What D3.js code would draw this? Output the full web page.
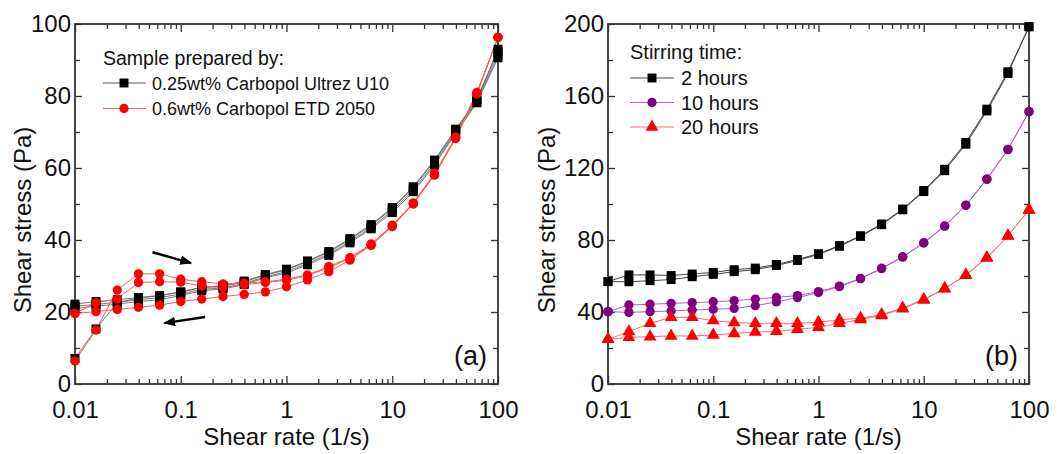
<!DOCTYPE html>
<html>
<head>
<meta charset="utf-8">
<script src="https://cdn.jsdelivr.net/npm/d3@7"></script>
<style>
  html, body { margin: 0; padding: 0; background: #fff; }
  svg { display: block; font-family: "Liberation Sans", Arial, sans-serif; }
</style>
</head>
<body>
<svg id="chart" width="1060" height="454"></svg>
<script>
// Shear rate sweep points (1/s), five per decade
const shearRate = [0.01, 0.0158, 0.0251, 0.0398, 0.0631, 0.1, 0.158, 0.251, 0.398, 0.631,
                   1, 1.58, 2.51, 3.98, 6.31, 10, 15.8, 25.1, 39.8, 63.1, 100];

// Panel (a): 0.25wt% Carbopol Ultrez U10 — repeated up/down sweeps (Pa)
const u10Up1   = [7.1, 15.3, 22.6, 23.9, 24.5, 25.6, 26.9, 27.3, 28.6, 30.4, 31.9, 34.2, 36.8, 40.4, 44.3, 49.0, 54.8, 62.2, 70.8, 79.0, 93.0];
const u10Down1 = [21.0, 21.6, 22.2, 22.9, 23.4, 24.6, 25.9, 26.4, 27.6, 29.5, 30.8, 33.1, 35.7, 39.2, 43.1, 47.6, 53.4, 60.8, 69.7, 78.1, 90.6];
const u10Up2   = [22.2, 22.9, 23.4, 24.0, 24.6, 25.5, 26.8, 27.1, 28.4, 30.2, 31.7, 34.0, 36.6, 40.1, 44.0, 48.7, 54.5, 61.9, 70.5, 78.8, 92.4];
const u10Down2 = [21.6, 22.1, 22.7, 23.4, 24.0, 25.0, 26.3, 26.7, 27.9, 29.8, 31.2, 33.5, 36.1, 39.6, 43.5, 48.1, 53.9, 61.3, 70.1, 78.4, 91.4];

// Panel (a): 0.6wt% Carbopol ETD 2050 (Pa)
const etdUp1  = [6.4, 15.0, 26.1, 30.6, 30.6, 29.1, 28.4, 27.8, 28.0, 28.4, 29.1, 30.3, 32.6, 35.1, 38.9, 44.1, 50.3, 58.5, 68.6, 81.0, 96.3];
const etdUp2  = [19.6, 22.6, 23.6, 28.2, 28.4, 28.3, 27.2, 26.8, 27.6, 28.2, 28.8, 30.1, 32.3, 34.9, 38.7, 43.9, 50.1, 58.2, 68.3, 80.7, 96.3];
const etdDown = [19.6, 20.1, 20.7, 21.3, 21.9, 22.9, 23.6, 24.3, 24.9, 25.6, 27.0, 28.9, 31.2, 34.4, 38.5, 43.7, 50.0, 58.0, 68.2, 80.6, 96.3];

// Panel (b): stirring time series, up and down sweeps (Pa)
const h2Up    = [56.9, 60.6, 60.6, 60.3, 61.1, 62.0, 63.5, 64.4, 66.4, 69.2, 72.4, 76.9, 82.4, 88.9, 97.2, 107.5, 119.3, 134.2, 152.7, 173.5, 198.5];
const h2Down  = [56.9, 56.8, 57.4, 58.0, 59.6, 60.9, 62.4, 63.5, 65.8, 68.6, 72.0, 76.5, 82.0, 88.5, 96.8, 106.9, 118.5, 133.2, 151.7, 172.5, 198.5];
const h10Up   = [40.2, 43.9, 44.3, 44.8, 45.2, 45.7, 46.3, 47.2, 48.1, 49.1, 51.3, 54.4, 58.7, 64.3, 70.7, 78.5, 87.8, 99.4, 113.9, 130.4, 151.3];
const h10Down = [40.2, 39.8, 40.2, 40.6, 41.1, 41.5, 42.0, 43.5, 45.6, 48.0, 50.8, 54.1, 58.5, 64.1, 70.5, 78.3, 87.6, 99.2, 113.7, 130.2, 151.3];
const h20Up   = [24.8, 29.1, 33.7, 37.0, 37.0, 35.2, 34.1, 33.7, 33.7, 33.7, 34.4, 35.6, 36.6, 38.6, 42.2, 47.0, 53.1, 60.6, 70.2, 82.4, 96.7];
const h20Down = [24.8, 25.9, 26.3, 26.7, 26.7, 27.2, 28.1, 28.9, 29.3, 30.4, 31.5, 33.7, 35.8, 38.1, 41.8, 46.7, 52.9, 60.4, 70.0, 82.2, 96.7];

// Axis ticks and labels
const xMajorTicks = [0.01, 0.1, 1, 10, 100];
const xTickLabels = ["0.01", "0.1", "1", "10", "100"];
const yTicksA = [0, 20, 40, 60, 80, 100];
const yTicksB = [0, 40, 80, 120, 160, 200];

const legendTitleA = "Sample prepared by:";
const legendNamesA = ["0.25wt% Carbopol Ultrez U10", "0.6wt% Carbopol ETD 2050"];
const legendTitleB = "Stirring time:";
const legendNamesB = ["2 hours", "10 hours", "20 hours"];

const svg = d3.select("#chart");

const BLACK = "#000000", RED = "#ff0000", PURPLE = "#800080";
const SQ = 80, CI = 68, TRI = 72;

function drawPanel(opts) {
  const x = d3.scaleLog().domain([0.01, 100]).range([opts.left, opts.right]);
  const y = d3.scaleLinear().domain([0, opts.yMax]).range([384, 24]);
  const g = svg.append("g");

  // minor x ticks (2..9 per decade)
  const xMinor = [];
  for (let e = -2; e < 2; e++) for (let m = 2; m <= 9; m++) xMinor.push(m * Math.pow(10, e));
  const yMinor = d3.range(opts.yMax / 10, opts.yMax, opts.yMax / 10).filter(v => !opts.yTicks.includes(v));

  const frame = "#333";
  const bottom = g.append("g").attr("transform", "translate(0,384)")
    .call(d3.axisBottom(x).tickValues(xMajorTicks).tickFormat((d, i) => xTickLabels[i]).tickSize(-8).tickPadding(17));
  g.append("g").attr("transform", "translate(0,24)")
    .call(d3.axisTop(x).tickValues(xMajorTicks).tickFormat("").tickSize(-8));
  g.append("g").attr("transform", "translate(0,384)")
    .call(d3.axisBottom(x).tickValues(xMinor).tickFormat("").tickSize(-5));
  g.append("g").attr("transform", "translate(0,24)")
    .call(d3.axisTop(x).tickValues(xMinor).tickFormat("").tickSize(-5));
  g.append("g").attr("transform", `translate(${opts.left},0)`)
    .call(d3.axisLeft(y).tickValues(opts.yTicks).tickFormat(d3.format("d")).tickSize(-7).tickPadding(4));
  g.append("g").attr("transform", `translate(${opts.right},0)`)
    .call(d3.axisRight(y).tickValues(opts.yTicks).tickFormat("").tickSize(-7));
  g.append("g").attr("transform", `translate(${opts.left},0)`)
    .call(d3.axisLeft(y).tickValues(yMinor).tickFormat("").tickSize(-5));
  g.append("g").attr("transform", `translate(${opts.right},0)`)
    .call(d3.axisRight(y).tickValues(yMinor).tickFormat("").tickSize(-5));

  g.selectAll(".domain").remove();
  g.selectAll(".tick line").attr("stroke", frame).attr("stroke-width", 1.3);
  g.selectAll(".tick text").attr("fill", "#111").attr("font-size", 24);
  bottom.selectAll(".tick text").attr("dy", "0.71em");

  g.append("rect")
    .attr("x", opts.left).attr("y", 24)
    .attr("width", opts.right - opts.left).attr("height", 360)
    .attr("fill", "none").attr("stroke", frame).attr("stroke-width", 1.8);

  // axis titles
  g.append("text")
    .attr("x", (opts.left + opts.right) / 2).attr("y", 445)
    .attr("text-anchor", "middle").attr("font-size", 24).attr("fill", "#111")
    .text("Shear rate (1/s)");
  g.append("text")
    .attr("transform", `translate(${opts.titleX},220) rotate(-90)`)
    .attr("text-anchor", "middle").attr("font-size", 24).attr("fill", "#111")
    .text("Shear stress (Pa)");

  // panel tag
  g.append("text")
    .attr("x", opts.right - 11).attr("y", 365)
    .attr("text-anchor", "end").attr("font-size", 27).attr("fill", "#111")
    .text(opts.tag);

  return { g, x, y };
}

const line = (x, y) => d3.line().x((d, i) => x(shearRate[i])).y(d => y(d));

function drawSeries(p, values, lineColor, lineWidth) {
  p.g.append("path").datum(values)
    .attr("d", line(p.x, p.y))
    .attr("fill", "none").attr("stroke", lineColor).attr("stroke-width", lineWidth);
}
function drawMarkers(p, values, marker, fill, size) {
  const sym = d3.symbol().type(marker).size(size);
  p.g.append("g").selectAll("path").data(values).join("path")
    .attr("transform", (d, i) => `translate(${p.x(shearRate[i])},${p.y(d)})`)
    .attr("d", sym).attr("fill", fill);
}

// ---------- Panel (a) ----------
const pa = drawPanel({ left: 75, right: 498, yMax: 100, yTicks: yTicksA, titleX: 31, tag: "(a)" });

const u10 = [u10Up1, u10Down1, u10Up2, u10Down2];
const etd = [etdUp1, etdUp2, etdDown];
u10.forEach(s => drawSeries(pa, s, "#555", 0.8));
etd.forEach(s => drawSeries(pa, s, "#ff5a5a", 1));
u10.forEach(s => drawMarkers(pa, s, d3.symbolSquare, BLACK, SQ));
etd.forEach(s => drawMarkers(pa, s, d3.symbolCircle, RED, CI));

// direction arrows
const arrowDefs = svg.append("defs");
arrowDefs.append("marker").attr("id", "arrowHead")
  .attr("viewBox", "0 0 10 10").attr("refX", 9).attr("refY", 5)
  .attr("markerWidth", 5).attr("markerHeight", 5).attr("orient", "auto")
  .append("path").attr("d", "M0,1 L10,5 L0,9 Z").attr("fill", "#000");
const arrows = [
  { from: [0.054, 36.6], to: [0.125, 33.6] },
  { from: [0.17, 18.6], to: [0.07, 16.9] }
];
pa.g.selectAll(".arrow").data(arrows).join("line")
  .attr("x1", d => pa.x(d.from[0])).attr("y1", d => pa.y(d.from[1]))
  .attr("x2", d => pa.x(d.to[0])).attr("y2", d => pa.y(d.to[1]))
  .attr("stroke", "#000").attr("stroke-width", 2.4).attr("marker-end", "url(#arrowHead)");

// legend (a)
const legA = pa.g.append("g");
legA.append("text").attr("x", 103).attr("y", 65).attr("font-size", 19.5).attr("fill", "#111").text(legendTitleA);
const legAStyles = [
  { color: "#555", marker: d3.symbolSquare, fill: BLACK, size: SQ },
  { color: "#ff5a5a", marker: d3.symbolCircle, fill: RED, size: CI }
];
legendNamesA.forEach((name, i) => {
  const cy = 83 + i * 25.5;
  const st = legAStyles[i];
  legA.append("line").attr("x1", 103).attr("x2", 146).attr("y1", cy).attr("y2", cy)
    .attr("stroke", st.color).attr("stroke-width", 1);
  legA.append("path").attr("transform", `translate(124,${cy})`)
    .attr("d", d3.symbol().type(st.marker).size(st.size)).attr("fill", st.fill);
  legA.append("text").attr("x", 152).attr("y", cy + 6.5).attr("font-size", 18).attr("fill", "#111").text(name);
});

// ---------- Panel (b) ----------
const pb = drawPanel({ left: 608, right: 1029, yMax: 200, yTicks: yTicksB, titleX: 555, tag: "(b)" });

const seriesB = [
  { data: [h2Up, h2Down], color: "#444", marker: d3.symbolSquare, fill: BLACK, size: SQ },
  { data: [h10Up, h10Down], color: "#b060c0", marker: d3.symbolCircle, fill: PURPLE, size: CI },
  { data: [h20Up, h20Down], color: "#ff6a6a", marker: d3.symbolTriangle, fill: RED, size: TRI }
];
seriesB.forEach(s => s.data.forEach(v => drawSeries(pb, v, s.color, 1)));
seriesB.forEach(s => s.data.forEach(v => drawMarkers(pb, v, s.marker, s.fill, s.size)));

// legend (b)
const legB = pb.g.append("g");
legB.append("text").attr("x", 630).attr("y", 59).attr("font-size", 20).attr("fill", "#111").text(legendTitleB);
legendNamesB.forEach((name, i) => {
  const cy = 78 + i * 24.5;
  const st = seriesB[i];
  legB.append("line").attr("x1", 630).attr("x2", 674).attr("y1", cy).attr("y2", cy)
    .attr("stroke", st.color).attr("stroke-width", 1);
  legB.append("path").attr("transform", `translate(652,${cy})`)
    .attr("d", d3.symbol().type(st.marker).size(st.size)).attr("fill", st.fill);
  legB.append("text").attr("x", 681).attr("y", cy + 7).attr("font-size", 20).attr("fill", "#111").text(name);
});
</script>
</body>
</html>
